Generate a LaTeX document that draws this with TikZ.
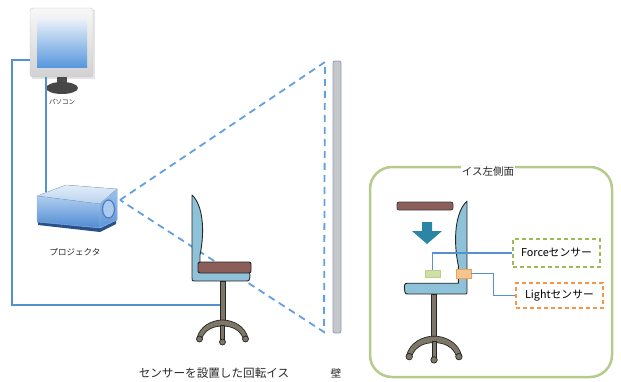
\documentclass[tikz,border=0pt]{standalone}
\usepackage{fontspec}
\setmainfont{Noto Sans CJK JP}
\usetikzlibrary{calc}

\definecolor{wire}{HTML}{5590CF}
\definecolor{beam}{HTML}{62A0E2}
\definecolor{shellblue}{HTML}{8EC2D8}
\definecolor{cushion}{HTML}{8B5E5A}
\definecolor{legs}{HTML}{7E7666}
\definecolor{panelgreen}{HTML}{B5CB8E}
\definecolor{forcegreen}{HTML}{9BBB59}
\definecolor{lightorange}{HTML}{F79646}
\definecolor{arrowteal}{HTML}{2B86A6}
\definecolor{screentop}{HTML}{EEF3FA}
\definecolor{screenblue}{HTML}{5898DE}
\definecolor{projbase}{HTML}{28508C}
\definecolor{projtopA}{HTML}{E2EDF9}
\definecolor{projtopB}{HTML}{B9D2EE}
\definecolor{projfrontA}{HTML}{AFCDEE}
\definecolor{projfrontB}{HTML}{4F8BD3}
\definecolor{projsideA}{HTML}{9DC2EC}
\definecolor{projsideB}{HTML}{5D95D6}
\definecolor{projedge}{HTML}{9FBFE6}
\definecolor{lensfill}{HTML}{AACAF0}
\definecolor{lensedge}{HTML}{4B7DC3}
\definecolor{walledge}{HTML}{8C9BC8}
\definecolor{fsensfill}{HTML}{CEE0A5}
\definecolor{fsensedge}{HTML}{B9D08A}
\definecolor{lsensfill}{HTML}{F9C48C}
\definecolor{lsensedge}{HTML}{EDA25A}

\tikzset{
  wireline/.style={draw=wire, line width=1.4pt},
  beamline/.style={draw=beam, line width=1.8pt, dash pattern=on 7pt off 5pt},
  txt/.style={inner sep=1pt, text=black!85},
  sensorbox/.style={draw, line width=1.2pt, dash pattern=on 4pt off 3pt, minimum width=87pt, inner sep=0pt, font=\fontsize{10.8}{12}\selectfont},
  chairframe/.pic={
    % back rest and seat shell
    \filldraw[fill=shellblue, draw=black!85, line width=0.9pt, line join=round]
      (0,86) .. controls (11,76) and (13,50) .. (8,26) -- (8,10) -- (55,10)
      .. controls (58,10) and (58,8) .. (58,5) -- (57.5,2) .. controls (57,0) .. (54,0)
      -- (3,0) .. controls (0,0) .. (0,3) -- cycle;
    % column
    \filldraw[fill=legs, draw=black!85, line width=0.7pt] (28,0) rectangle (33,-41);
    % star base
    \filldraw[fill=legs, draw=black!85, line width=0.7pt]
      (5,-57) .. controls (8,-45) and (20,-39) .. (30.5,-39)
      .. controls (41,-39) and (53,-45) .. (56,-57) -- (51,-57)
      .. controls (48,-49) and (40,-45) .. (30.5,-45)
      .. controls (21,-45) and (13,-49) .. (10,-57) -- cycle;
    \filldraw[fill=legs, draw=black!85, line width=0.7pt] (28.5,-44) rectangle (32.5,-59);
    \foreach \p in {(7.5,-58),(53.5,-58),(30.5,-61)}
      \filldraw[fill=legs, draw=black!85, line width=0.7pt] \p circle (3);
  }
}

\begin{document}
\begin{tikzpicture}[x=1pt,y=1pt]
\useasboundingbox (0,0) rectangle (621,-381);

% ---------- computer ----------
\fill[black!10] (32,-10) rectangle (95,-79);
\node[name=pc, draw=black!22, rounded corners=3pt, top color=black!3, bottom color=black!18,
      minimum width=63pt, minimum height=69pt, inner sep=0pt] at (61.5,-42.5) {};
\node[name=pcscreen, top color=screentop, bottom color=screenblue,
      minimum width=50pt, minimum height=49pt, inner sep=0pt] at (62,-42.5) {};
\fill[black!70] (57,-77) rectangle (67,-84);
\fill[black!72] (62,-88) ellipse [x radius=16, y radius=6];
\node[name=pclabel, txt, font=\fontsize{6.5}{8}\selectfont] at (62,-102) {パソコン};

% ---------- projector ----------
\fill[projbase] (38,-221) -- (100,-228) -- (116,-220) -- (116,-224) -- (100,-232) -- (38,-225) -- cycle;
\filldraw[draw=projedge, top color=projtopA, bottom color=projtopB]
  (37,-196) -- (66,-185) -- (117,-189) -- (100,-204) -- cycle;
\filldraw[draw=projedge, top color=projfrontA, bottom color=projfrontB]
  (37,-196) -- (100,-204) -- (100,-228) -- (37,-222) -- cycle;
\filldraw[draw=projedge, top color=projsideA, bottom color=projsideB]
  (100,-204) -- (117,-189) -- (117,-220) -- (100,-228) -- cycle;
\filldraw[fill=lensfill, draw=lensedge, line width=1.2pt]
  (108.5,-209) ellipse [x radius=6, y radius=9];
\coordinate (projlens) at (120,-200);
\coordinate (projtop) at (46,-192);
\node[name=projlabel, txt, font=\fontsize{8.5}{10}\selectfont] at (75,-252) {プロジェクタ};

% ---------- wires ----------
\coordinate (pcleft) at (30,-60);
\coordinate (pcbottom) at (46,-77);
\coordinate (chaircol) at (220,-305);
\draw[wireline] (pcbottom) -- (projtop);
\draw[wireline] (pcleft) -- (12,-60) |- (chaircol);

% ---------- wall and projection ----------
\coordinate (walltop) at (325,-62);
\coordinate (wallbottom) at (324,-332);
\draw[beamline, line join=miter] (projlens) -- (walltop) -- (wallbottom) -- cycle;
\filldraw[fill=black!22, draw=walledge, line width=0.8pt, rounded corners=2pt]
  (333,-61) rectangle (341,-333);
\node[name=walllabel, txt, font=\fontsize{10.5}{12}\selectfont] at (336,-373) {壁};

% ---------- chair with sensors ----------
\pic at (192,-281) {chairframe};
\filldraw[fill=cushion, draw=black!85, line width=0.9pt, rounded corners=2pt] (198,-262) rectangle (251,-273);
\node[name=chairlabel, txt, font=\fontsize{11.6}{13}\selectfont] at (214,-373) {センサーを設置した回転イス};

% ---------- side view panel ----------
\draw[draw=panelgreen, line width=2.5pt, rounded corners=22pt] (370,-167) rectangle (612,-377);
\node[name=paneltitle, fill=white, inner xsep=18pt, inner ysep=2pt, txt, font=\fontsize{10.5}{12}\selectfont] at (488,-172) {イス左側面};

\pic[xscale=-1.08, yscale=1.08] at (467,-294) {chairframe};
\filldraw[fill=cushion, draw=black!75, line width=0.8pt, rounded corners=2pt] (397,-202) rectangle (453,-210);
\fill[arrowteal] (422,-222) -- (432,-222) -- (432,-231) -- (442,-231) -- (427,-244) -- (412,-231) -- (422,-231) -- cycle;

\node[name=fsens, fill=fsensfill, draw=fsensedge,
      minimum width=15pt, minimum height=7pt, inner sep=0pt] at (432.5,-273.5) {};
\node[name=lsens, fill=lsensfill, draw=lsensedge,
      minimum width=15pt, minimum height=9pt, inner sep=0pt] at (463.5,-273.5) {};

\node[name=fbox, sensorbox, draw=forcegreen, minimum height=28pt] at (556.5,-253) {Forceセンサー};
\node[name=lbox, sensorbox, draw=lightorange, minimum height=25pt] at (559.5,-295.5) {Lightセンサー};

\draw[wire, line width=1.2pt] (fsens.north) |- (fbox.west);
\draw[wire, line width=1.2pt] (lsens.east) -- ++(22,0) |- (lbox.west);
\end{tikzpicture}
\end{document}
